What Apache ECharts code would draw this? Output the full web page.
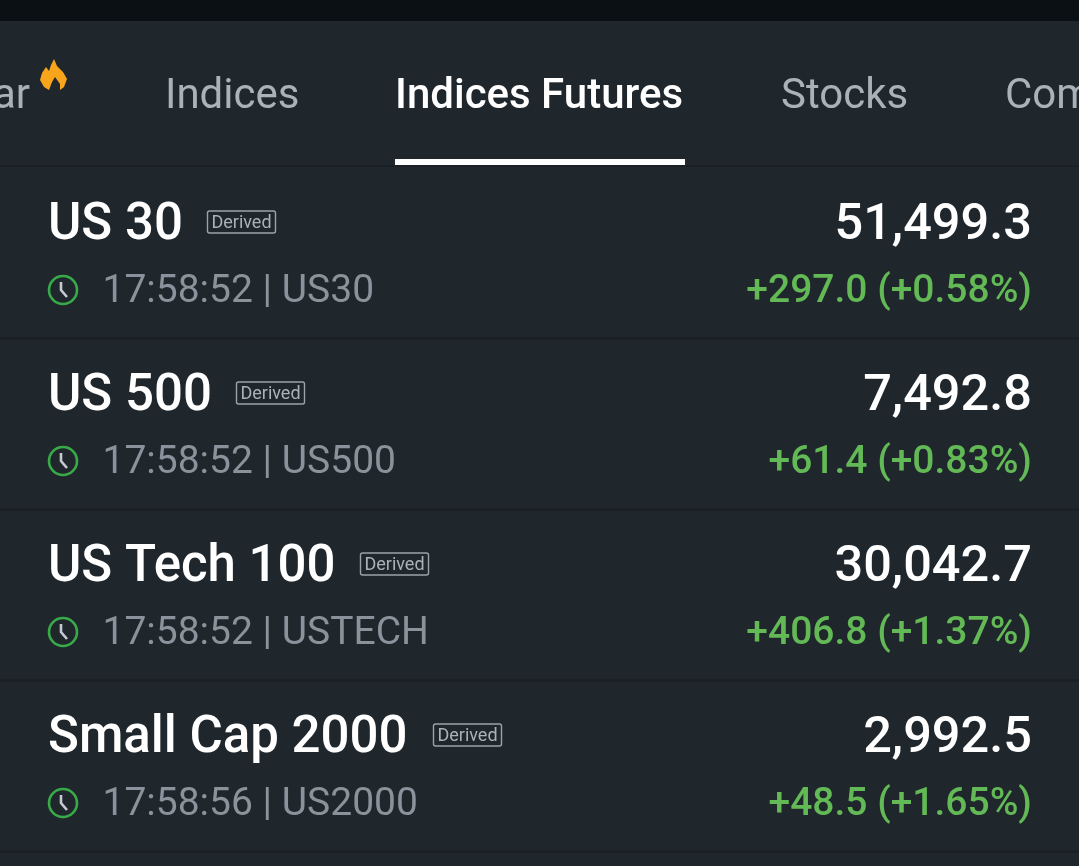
<!DOCTYPE html>
<html><head><meta charset="utf-8">
<style>html,body{margin:0;padding:0;background:#1f272d}#c{width:1079px;height:866px}</style>
<script src="https://cdn.jsdelivr.net/npm/echarts@6/dist/echarts.min.js"></script>
</head><body><div id="c"></div>
<script>
const tabLabels = ['ar','Indices','Indices Futures','Stocks','Com'];
const names = ['US 30','US 500','US Tech 100','Small Cap 2000'];
const times = ['17:58:52','17:58:52','17:58:52','17:58:56'];
const symbols = ['US30','US500','USTECH','US2000'];
const prices = ['51,499.3','7,492.8','30,042.7','2,992.5'];
const changes = ['+297.0 (+0.58%)','+61.4 (+0.83%)','+406.8 (+1.37%)','+48.5 (+1.65%)'];
const badge = 'Derived';

const F = 'Roboto';
const BG = '#1f272d';
const tabX = [30,165,395,781,1005];
const badgeX = [207,236,360,433];
const rowStep = 171;
const el = [];
const text = (x,y,t,size,color,weight,align) => ({type:'text',x,y,silent:true,style:{
  text:t,fontFamily:F,fontSize:size,fontWeight:weight||400,fill:color,align:align||'left',verticalAlign:'middle'}});
const rect = (x,y,w,h,fill) => ({type:'rect',silent:true,shape:{x,y,width:w,height:h},style:{fill}});

el.push(rect(0,0,1079,866,BG));
el.push(rect(0,0,1079,21,'#0b1014'));
el.push(rect(0,165,1079,2,'#1a2025'));
tabLabels.forEach((t,i)=>{
  el.push(text(tabX[i],97,t,42,i===2?'#ffffff':'#aab1b9',i===2?500:400,i===0?'right':'left'));
});
el.push(rect(395,159,290,6,'#ffffff'));
el.push({type:'polygon',silent:true,shape:{points:[[54,59],[57,66],[63,72],[67,79],[64,87],[60,90],[60,84],[55,77],[52,82],[49,90],[44,87],[40,80],[42,73],[46,67],[49,71],[51,65]]},style:{fill:'#f9a51c'}});

names.forEach((n,i)=>{
  const d = i*rowStep;
  el.push(text(48,226+d,n,51,'#ffffff',500));
  el.push({type:'rect',silent:true,x:badgeX[i]-207,y:d,shape:{x:207.5,y:211,width:68,height:22,r:2},style:{fill:'none',stroke:'#9aa2ab',lineWidth:1.4}});
  el.push(text(badgeX[i]+34.5,223+d,badge,18,'#aab1b9',400,'center'));
  el.push({type:'circle',silent:true,shape:{cx:63,cy:290+d,r:14},style:{fill:'none',stroke:'#38ab48',lineWidth:2.6}});
  el.push({type:'polyline',silent:true,shape:{points:[[61,282+d],[61,290+d],[67,297+d]]},style:{fill:'none',stroke:'#c4cad0',lineWidth:2.6}});
  el.push(text(102.5,292+d,times[i]+' | '+symbols[i],39,'#8a929b'));
  el.push(text(1032,226+d,prices[i],50.5,'#ffffff',500,'right'));
  el.push(text(1032,292+d,changes[i],39,'#63b955',500,'right'));
  el.push(rect(0,337+d,1079,3,'#1a2025'));
});

const chart = echarts.init(document.getElementById('c'),null,{renderer:'canvas'});
chart.setOption({animation:false,backgroundColor:BG,graphic:{elements:el}});
</script></body></html>
